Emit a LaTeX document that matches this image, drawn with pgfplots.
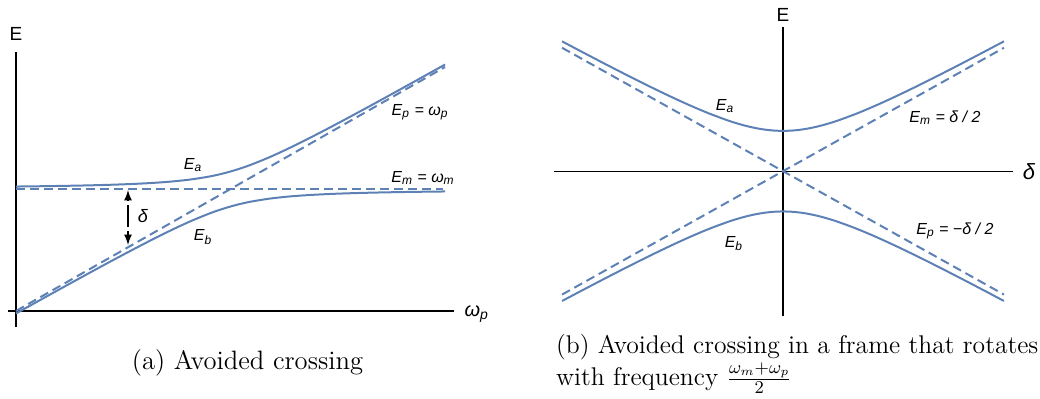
\documentclass[border=0pt]{standalone}
\usepackage{pgfplots}
\pgfplotsset{compat=1.18}
\usepackage{fontspec}
\newfontfamily\lab{Liberation Sans}
\definecolor{mblue}{RGB}{94,129,181}
\newcommand{\lt}[1]{{\lab\fontsize{8}{9}\selectfont\itshape #1}}
\newcommand{\su}[1]{\textsubscript{#1}}
\pgfplotsset{
  sol/.style={mblue, line width=1pt, smooth, no marks},
  das/.style={mblue, line width=1pt, no marks, dash pattern=on 4.5pt off 2.5pt},
}
\begin{document}
\begin{tikzpicture}[x=0.5pt,y=0.5pt]
\useasboundingbox (0,0) rectangle (1040,398);
% ---------- left panel ----------
\begin{axis}[at={(4pt,35.5pt)}, anchor=south west, scale only axis,
  width=223pt, height=137.5pt,
  xmin=-4.55, xmax=249.1, ymin=-16, ymax=259,
  axis lines=middle, axis line style={black, line width=0.6pt, -},
  ticks=none, clip=false]
\addplot[das] coordinates {(0,122) (243,122)};
\addplot[das] coordinates {(0,0) (244,244)};
\addplot[sol] coordinates {
(0,124.46) (10,124.67) (20,124.92) (30,125.22) (40,125.58) (50,126.03)
(60,126.60) (70,127.34) (80,128.34) (90,129.71) (100,131.67) (110,134.50)
(116,136.76) (122,139.5) (128,142.76) (134,146.5) (144,153.67) (154,161.71)
(164,170.34) (174,179.34) (184,188.60) (194,198.03) (204,207.58) (214,217.22)
(224,226.92) (234,236.67) (244,246.46)};
\addplot[sol] coordinates {
(0,-2.46) (10,7.33) (20,17.08) (30,26.78) (40,36.42) (50,45.97)
(60,55.40) (70,64.66) (80,73.66) (90,82.29) (100,90.33) (110,97.50)
(116,101.24) (122,104.5) (128,107.24) (134,109.5) (144,112.33) (154,114.29)
(164,115.66) (174,116.66) (184,117.40) (194,117.97) (204,118.42) (214,118.78)
(224,119.08) (234,119.33) (244,119.54)};
\addplot[black, line width=0.8pt, dash pattern=on 3pt off 2pt, -latex, no marks]
  coordinates {(63.7,100) (63.7,66)};
\addplot[black, line width=0.8pt, dash pattern=on 3pt off 2pt, -latex, no marks]
  coordinates {(63.7,90) (63.7,121)};
\node[font=\lab\fontsize{9.5}{10}\selectfont] at (axis cs:0,277) {E};
\node at (axis cs:262,-3) {{\lab\fontsize{10}{11}\selectfont\itshape ω\su{p}}};
\node at (axis cs:100.7,146) {\lt{E\su{a}}};
\node at (axis cs:106.4,74) {\lt{E\su{b}}};
\node at (axis cs:229.8,199) {\lt{E\su{p} = ω\su{p}}};
\node at (axis cs:231.5,133) {\lt{E\su{m} = ω\su{m}}};
\node at (axis cs:72.2,95) {{\lab\fontsize{9}{10}\selectfont\itshape δ}};
\end{axis}
% ---------- right panel ----------
\begin{axis}[at={(277pt,41pt)}, anchor=south west, scale only axis,
  width=229.5pt, height=141.5pt,
  xmin=-250.8, xmax=251.9, ymin=-142, ymax=141,
  axis lines=middle, axis line style={black, line width=0.6pt, -},
  ticks=none, clip=false]
\addplot[das] coordinates {(-242,121) (242,-121)};
\addplot[das] coordinates {(-242,-121) (242,121)};
\addplot[sol] coordinates {
(-242,127.28) (-220,116.88) (-200,107.52) (-180,98.29) (-160,89.22) (-140,80.38)
(-120,71.84) (-100,63.72) (-80,56.22) (-60,49.60) (-50,46.75) (-40,44.27)
(-30,42.25) (-20,40.75) (-10,39.82) (0,39.50) (10,39.82) (20,40.75) (30,42.25)
(40,44.27) (50,46.75) (60,49.60) (80,56.22) (100,63.72) (120,71.84) (140,80.38)
(160,89.22) (180,98.29) (200,107.52) (220,116.88) (242,127.28)};
\addplot[sol] coordinates {
(-242,-127.28) (-220,-116.88) (-200,-107.52) (-180,-98.29) (-160,-89.22) (-140,-80.38)
(-120,-71.84) (-100,-63.72) (-80,-56.22) (-60,-49.60) (-50,-46.75) (-40,-44.27)
(-30,-42.25) (-20,-40.75) (-10,-39.82) (0,-39.50) (10,-39.82) (20,-40.75) (30,-42.25)
(40,-44.27) (50,-46.75) (60,-49.60) (80,-56.22) (100,-63.72) (120,-71.84) (140,-80.38)
(160,-89.22) (180,-98.29) (200,-107.52) (220,-116.88) (242,-127.28)};
\node[font=\lab\fontsize{9.5}{10}\selectfont] at (axis cs:0,153) {E};
\node at (axis cs:269.4,0) {{\lab\fontsize{11}{12}\selectfont\itshape δ}};
\node at (axis cs:-63.5,64) {\lt{E\su{a}}};
\node at (axis cs:-53.7,-71) {\lt{E\su{b}}};
\node at (axis cs:177.4,52) {\lt{E\su{m} = δ / 2}};
\node at (axis cs:188.3,-59) {\lt{E\su{p} = −δ / 2}};
\end{axis}
% ---------- captions ----------
\node[font=\fontsize{13.3}{15}\selectfont, anchor=base] at (247.5,29) {(a) Avoided crossing};
\node[font=\fontsize{12.8}{14}\selectfont, anchor=base west] at (549,45) {(b) Avoided crossing in a frame that rotates};
\node[font=\fontsize{12.8}{14}\selectfont, anchor=base west] at (549,13) {with frequency $\frac{\omega_m+\omega_p}{2}$};
\end{tikzpicture}
\end{document}
